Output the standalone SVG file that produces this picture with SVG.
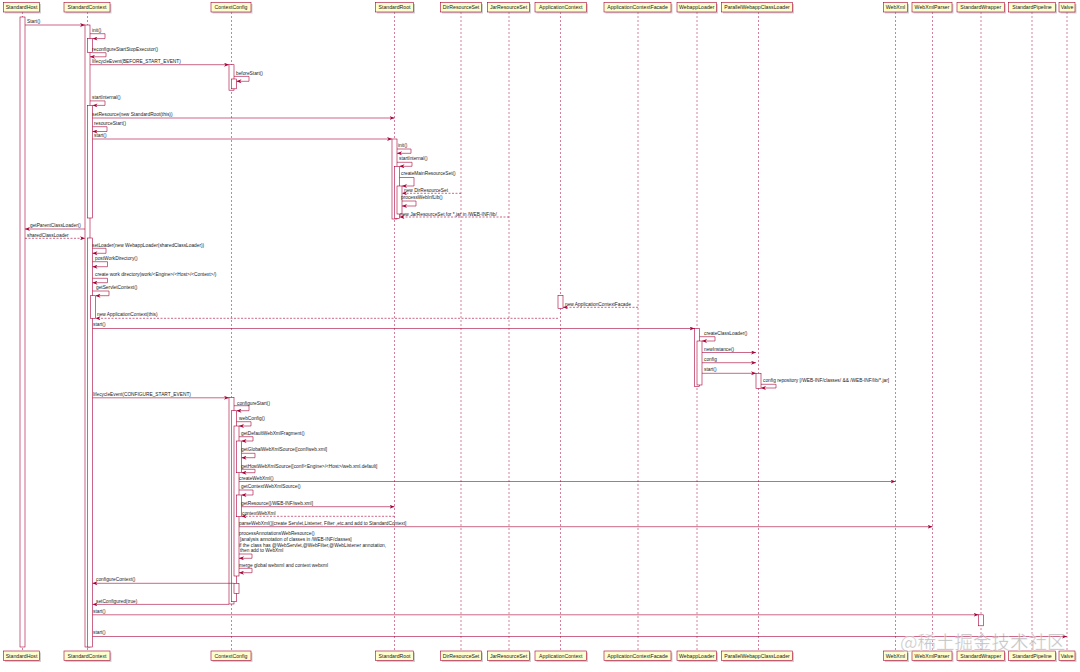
<svg xmlns="http://www.w3.org/2000/svg" width="1080" height="672" viewBox="0 0 1080 672">
<style>
.box{fill:#FEFECE;stroke:#A80036;stroke-width:0.6}
.shd{fill:#999;opacity:.45}
.pt{font-family:"Liberation Sans",Arial,sans-serif;font-size:5.2px;text-anchor:middle;fill:#222}
.life{stroke:#A80036;stroke-width:0.5;stroke-dasharray:2,2;fill:none}
.act{fill:#fff;stroke:#A80036;stroke-width:0.6}
.msg{stroke:#A80036;stroke-width:0.6;fill:none;marker-end:url(#ah)}
.ret{stroke:#A80036;stroke-width:0.6;fill:none;stroke-dasharray:2,1.5;marker-end:url(#ah)}
.lbl{font-family:"Liberation Sans",Arial,sans-serif;font-size:4.8px;fill:#222}
</style>
<defs>
<marker id="ah" viewBox="0 0 5 4" refX="5" refY="2" markerWidth="5" markerHeight="4" orient="auto" markerUnits="userSpaceOnUse"><path d="M0,0 L5,2 L0,4 L1.5,2 Z" fill="#A80036"/></marker>
</defs>
<rect width="1080" height="672" fill="#fff"/>

<g id="StandardHost">
<line class="life" x1="22.5" y1="12" x2="22.5" y2="651"/>
<rect class="shd" x="5" y="4" width="36" height="9.5"/><rect class="box" x="3.5" y="2.5" width="36" height="9.5"/><text class="pt" x="21.5" y="9.2">StandardHost</text>
<rect class="shd" x="5" y="652.5" width="36" height="9.5"/><rect class="box" x="3.5" y="651" width="36" height="9.5"/><text class="pt" x="21.5" y="657.7">StandardHost</text>
<rect class="act" x="20" y="17" width="5" height="630"/>
</g>

<g id="StandardContext">
<line class="life" x1="87.5" y1="12" x2="87.5" y2="651"/>
<rect class="shd" x="65.5" y="4" width="46" height="9.5"/><rect class="box" x="64" y="2.5" width="46" height="9.5"/><text class="pt" x="87" y="9.2">StandardContext</text>
<rect class="shd" x="65.5" y="652.5" width="46" height="9.5"/><rect class="box" x="64" y="651" width="46" height="9.5"/><text class="pt" x="87" y="657.7">StandardContext</text>
<rect class="act" x="85" y="25" width="5" height="622"/>
<rect class="act" x="87.5" y="38.6" width="5" height="13.7"/>
<rect class="act" x="87.5" y="105.4" width="5" height="112.6"/>
<rect class="act" x="87.5" y="238" width="5" height="409"/>
<rect class="act" x="90.5" y="295.7" width="5" height="22.6"/>
</g>

<g id="ContextConfig">
<line class="life" x1="231.5" y1="12" x2="231.5" y2="651"/>
<rect class="shd" x="212.5" y="4" width="40" height="9.5"/><rect class="box" x="211" y="2.5" width="40" height="9.5"/><text class="pt" x="231" y="9.2">ContextConfig</text>
<rect class="shd" x="212.5" y="652.5" width="40" height="9.5"/><rect class="box" x="211" y="651" width="40" height="9.5"/><text class="pt" x="231" y="657.7">ContextConfig</text>
<rect class="act" x="229" y="64.7" width="5" height="25.5"/>
<rect class="act" x="231.5" y="79" width="5" height="9.8"/>
<rect class="act" x="229" y="397.5" width="5" height="206.5"/>
<rect class="act" x="231.5" y="410.7" width="5" height="191"/>
<rect class="act" x="234" y="426" width="5" height="150"/>
<rect class="act" x="236.5" y="441" width="5" height="31.7"/>
<rect class="act" x="236.5" y="495" width="5" height="21.7"/>
<rect class="act" x="234" y="583.3" width="5" height="10"/>
</g>

<g id="StandardRoot">
<line class="life" x1="394.5" y1="12" x2="394.5" y2="651"/>
<rect class="shd" x="377" y="4" width="38" height="9.5"/><rect class="box" x="375.5" y="2.5" width="38" height="9.5"/><text class="pt" x="394.5" y="9.2">StandardRoot</text>
<rect class="shd" x="377" y="652.5" width="38" height="9.5"/><rect class="box" x="375.5" y="651" width="38" height="9.5"/><text class="pt" x="394.5" y="657.7">StandardRoot</text>
<rect class="act" x="392" y="139" width="5" height="80"/>
<rect class="act" x="394.5" y="166.3" width="5" height="52"/>
<rect class="act" x="397" y="186" width="5" height="28"/>
</g>

<g id="DirResourceSet">
<line class="life" x1="461" y1="12" x2="461" y2="651"/>
<rect class="shd" x="442" y="4" width="41" height="9.5"/><rect class="box" x="440.5" y="2.5" width="41" height="9.5"/><text class="pt" x="461" y="9.2">DirResourceSet</text>
<rect class="shd" x="442" y="652.5" width="41" height="9.5"/><rect class="box" x="440.5" y="651" width="41" height="9.5"/><text class="pt" x="461" y="657.7">DirResourceSet</text>
</g>

<g id="JarResourceSet">
<line class="life" x1="509" y1="12" x2="509" y2="651"/>
<rect class="shd" x="489" y="4" width="42" height="9.5"/><rect class="box" x="487.5" y="2.5" width="42" height="9.5"/><text class="pt" x="508.5" y="9.2">JarResourceSet</text>
<rect class="shd" x="489" y="652.5" width="42" height="9.5"/><rect class="box" x="487.5" y="651" width="42" height="9.5"/><text class="pt" x="508.5" y="657.7">JarResourceSet</text>
</g>

<g id="ApplicationContext">
<line class="life" x1="560.5" y1="12" x2="560.5" y2="651"/>
<rect class="shd" x="536.5" y="4" width="51.5" height="9.5"/><rect class="box" x="535" y="2.5" width="51.5" height="9.5"/><text class="pt" x="560.7" y="9.2">ApplicationContext</text>
<rect class="shd" x="536.5" y="652.5" width="51.5" height="9.5"/><rect class="box" x="535" y="651" width="51.5" height="9.5"/><text class="pt" x="560.7" y="657.7">ApplicationContext</text>
<rect class="act" x="558" y="295.5" width="5" height="13"/>
</g>

<g id="ApplicationContextFacade">
<line class="life" x1="638" y1="12" x2="638" y2="651"/>
<rect class="shd" x="605.5" y="4" width="67" height="9.5"/><rect class="box" x="604" y="2.5" width="67" height="9.5"/><text class="pt" x="637.5" y="9.2">ApplicationContextFacade</text>
<rect class="shd" x="605.5" y="652.5" width="67" height="9.5"/><rect class="box" x="604" y="651" width="67" height="9.5"/><text class="pt" x="637.5" y="657.7">ApplicationContextFacade</text>
</g>

<g id="WebappLoader">
<line class="life" x1="697" y1="12" x2="697" y2="651"/>
<rect class="shd" x="678.5" y="4" width="39.5" height="9.5"/><rect class="box" x="677" y="2.5" width="39.5" height="9.5"/><text class="pt" x="696.7" y="9.2">WebappLoader</text>
<rect class="shd" x="678.5" y="652.5" width="39.5" height="9.5"/><rect class="box" x="677" y="651" width="39.5" height="9.5"/><text class="pt" x="696.7" y="657.7">WebappLoader</text>
<rect class="act" x="694.5" y="328.5" width="5" height="58"/>
<rect class="act" x="697" y="341" width="5" height="44"/>
</g>

<g id="ParallelWebappClassLoader">
<line class="life" x1="758.5" y1="12" x2="758.5" y2="651"/>
<rect class="shd" x="723" y="4" width="71" height="9.5"/><rect class="box" x="721.5" y="2.5" width="71" height="9.5"/><text class="pt" x="757" y="9.2">ParallelWebappClassLoader</text>
<rect class="shd" x="723" y="652.5" width="71" height="9.5"/><rect class="box" x="721.5" y="651" width="71" height="9.5"/><text class="pt" x="757" y="657.7">ParallelWebappClassLoader</text>
<rect class="act" x="756" y="373.3" width="5" height="15.2"/>
</g>

<g id="WebXml">
<line class="life" x1="895.5" y1="12" x2="895.5" y2="651"/>
<rect class="shd" x="885" y="4" width="24" height="9.5"/><rect class="box" x="883.5" y="2.5" width="24" height="9.5"/><text class="pt" x="895.5" y="9.2">WebXml</text>
<rect class="shd" x="885" y="652.5" width="24" height="9.5"/><rect class="box" x="883.5" y="651" width="24" height="9.5"/><text class="pt" x="895.5" y="657.7">WebXml</text>
</g>

<g id="WebXmlParser">
<line class="life" x1="932.5" y1="12" x2="932.5" y2="651"/>
<rect class="shd" x="913.5" y="4" width="40" height="9.5"/><rect class="box" x="912" y="2.5" width="40" height="9.5"/><text class="pt" x="932" y="9.2">WebXmlParser</text>
<rect class="shd" x="913.5" y="652.5" width="40" height="9.5"/><rect class="box" x="912" y="651" width="40" height="9.5"/><text class="pt" x="932" y="657.7">WebXmlParser</text>
</g>

<g id="StandardWrapper">
<line class="life" x1="981" y1="12" x2="981" y2="651"/>
<rect class="shd" x="958.5" y="4" width="47.5" height="9.5"/><rect class="box" x="957" y="2.5" width="47.5" height="9.5"/><text class="pt" x="980.7" y="9.2">StandardWrapper</text>
<rect class="shd" x="958.5" y="652.5" width="47.5" height="9.5"/><rect class="box" x="957" y="651" width="47.5" height="9.5"/><text class="pt" x="980.7" y="657.7">StandardWrapper</text>
<rect class="act" x="978.5" y="614.8" width="5" height="11"/>
</g>

<g id="StandardPipeline">
<line class="life" x1="1032" y1="12" x2="1032" y2="651"/>
<rect class="shd" x="1010" y="4" width="47" height="9.5"/><rect class="box" x="1008.5" y="2.5" width="47" height="9.5"/><text class="pt" x="1032" y="9.2">StandardPipeline</text>
<rect class="shd" x="1010" y="652.5" width="47" height="9.5"/><rect class="box" x="1008.5" y="651" width="47" height="9.5"/><text class="pt" x="1032" y="657.7">StandardPipeline</text>
</g>

<g id="Valve">
<line class="life" x1="1067" y1="12" x2="1067" y2="651"/>
<rect class="shd" x="1060.5" y="4" width="16" height="9.5"/><rect class="box" x="1059" y="2.5" width="16" height="9.5"/><text class="pt" x="1067" y="9.2">Valve</text>
<rect class="shd" x="1060.5" y="652.5" width="16" height="9.5"/><rect class="box" x="1059" y="651" width="16" height="9.5"/><text class="pt" x="1067" y="657.7">Valve</text>
</g>

<g id="connectors">
<line class="msg" x1="25" y1="25" x2="85" y2="25"/><text class="lbl" x="27" y="22.5">Start()</text>
<path class="msg" d="M90,33.7 H105 V38.6 H92.5"/><text class="lbl" x="92" y="31.5">init()</text>
<path class="msg" d="M92.5,52.7 H106 V56.8 H90"/><text class="lbl" x="92" y="50.5">reconfigureStartStopExecutor()</text>
<line class="msg" x1="90" y1="64.7" x2="229" y2="64.7"/><text class="lbl" x="92" y="63">lifecycleEvent(BEFORE_START_EVENT)</text>
<path class="msg" d="M234,76.4 H249 V81.3 H236.5"/><text class="lbl" x="236" y="74.5">beforeStart()</text>
<path class="msg" d="M90,100.9 H105 V105.4 H92.5"/><text class="lbl" x="92" y="98.8">startInternal()</text>
<line class="msg" x1="92.5" y1="118" x2="394.5" y2="118"/><text class="lbl" x="92" y="115.5">setResource(new StandardRoot(this))</text>
<path class="msg" d="M92.5,126.7 H107 V131.5 H92.5"/><text class="lbl" x="94" y="124.5">resourceStart()</text>
<line class="msg" x1="92.5" y1="139" x2="392" y2="139"/><text class="lbl" x="94" y="136.8">start()</text>
<path class="msg" d="M397,149 H411 V153.3 H397"/><text class="lbl" x="398" y="147">init()</text>
<path class="msg" d="M397,162.3 H412 V166.3 H399.5"/><text class="lbl" x="399" y="160.2">startInternal()</text>
<path class="msg" d="M399.5,177.5 H414 V186 H402"/><text class="lbl" x="401" y="175.2">createMainResourceSet()</text>
<line class="ret" x1="461" y1="193.3" x2="402" y2="193.3"/><text class="lbl" x="404" y="191.6">new DirResourceSet</text>
<path class="msg" d="M402,201 H416 V206 H402"/><text class="lbl" x="401" y="198.5">processWebInfLib()</text>
<line class="ret" x1="509" y1="217" x2="399.5" y2="217"/><text class="lbl" x="400" y="215.5">new JarResourceSet for *.jar in /WEB-INF/lib/</text>
<line class="msg" x1="85" y1="229" x2="25" y2="229"/><text class="lbl" x="30" y="226.8">getParentClassLoader()</text>
<line class="ret" x1="25" y1="238.3" x2="85" y2="238.3"/><text class="lbl" x="27" y="236.5">sharedClassLoader</text>
<path class="msg" d="M92.5,248.3 H106 V253.3 H92.5"/><text class="lbl" x="92" y="246.5">setLoader(new WebappLoader(sharedClassLoader))</text>
<path class="msg" d="M92.5,261.7 H107.5 V266.7 H92.5"/><text class="lbl" x="95" y="259.8">postWorkDirectory()</text>
<path class="msg" d="M92.5,278.3 H107.5 V282.7 H92.5"/><text class="lbl" x="95" y="275.8">create work directory(work/&lt;Engine&gt;/&lt;Host&gt;/&lt;Context&gt;/)</text>
<path class="msg" d="M92.5,291 H109 V295.7 H95.5"/><text class="lbl" x="96" y="289.2">getServletContext()</text>
<line class="ret" x1="638" y1="307.3" x2="563" y2="307.3"/><text class="lbl" x="565" y="305.8">new ApplicationContextFacade</text>
<line class="ret" x1="558" y1="318.3" x2="95.5" y2="318.3"/><text class="lbl" x="97" y="316">new ApplicationContext(this)</text>
<line class="msg" x1="92.5" y1="328.5" x2="694.5" y2="328.5"/><text class="lbl" x="93" y="326">start()</text>
<path class="msg" d="M699.5,336.7 H715 V341 H702"/><text class="lbl" x="704" y="334.5">createClassLoader()</text>
<line class="msg" x1="702" y1="352.5" x2="756" y2="352.5"/><text class="lbl" x="704" y="350.8">newInstance()</text>
<line class="msg" x1="702" y1="362.7" x2="756" y2="362.7"/><text class="lbl" x="704" y="361">config</text>
<line class="msg" x1="702" y1="373.3" x2="756" y2="373.3"/><text class="lbl" x="704" y="370.8">start()</text>
<path class="msg" d="M761,384.3 H776 V388 H761"/><text class="lbl" x="763" y="382.3">config repository [/WEB-INF/classes/ &amp;&amp; /WEB-INF/lib/*.jar]</text>
<line class="msg" x1="92.5" y1="397.8" x2="229" y2="397.8"/><text class="lbl" x="93" y="396">lifecycleEvent(CONFIGURE_START_EVENT)</text>
<path class="msg" d="M234,405.7 H249 V410.7 H236.5"/><text class="lbl" x="237" y="404.8">configureStart()</text>
<path class="msg" d="M236.5,421.7 H251 V426 H239"/><text class="lbl" x="239" y="420">webConfig()</text>
<path class="msg" d="M239,436.7 H253 V441 H241.5"/><text class="lbl" x="241" y="435">getDefaultWebXmlFragment()</text>
<path class="msg" d="M241.5,453.3 H255 V457.7 H241.5"/><text class="lbl" x="241" y="451">getGlobalWebXmlSource([conf/web.xml]</text>
<path class="msg" d="M241.5,469.3 H255 V472.7 H241.5"/><text class="lbl" x="241" y="467.7">getHostWebXmlSource([conf/&lt;Engine&gt;/&lt;Host&gt;/web.xml.default]</text>
<line class="msg" x1="239" y1="481.5" x2="895.5" y2="481.5"/><text class="lbl" x="239" y="479.8">createWebXml()</text>
<path class="msg" d="M239,490 H253 V495 H241.5"/><text class="lbl" x="241" y="488.3">getContextWebXmlSource()</text>
<line class="msg" x1="241.5" y1="506.7" x2="394.5" y2="506.7"/><text class="lbl" x="241" y="505">getResource([/WEB-INF/web.xml]</text>
<line class="ret" x1="394.5" y1="516.3" x2="241.5" y2="516.3"/><text class="lbl" x="242" y="514.8">contextWebXml</text>
<line class="msg" x1="239" y1="526.7" x2="932.5" y2="526.7"/><text class="lbl" x="239" y="525.3">parseWebXml()[create Servlet,Listener, Filter ,etc.and add to StandardContext]</text>
<path class="msg" d="M239,554 H252 V558.3 H239"/>
<text class="lbl" x="239" y="535">processAnnotationsWebResource()</text>
<text class="lbl" x="240" y="540.9">[analysis annotation of classes in /WEB-INF/classes]</text>
<text class="lbl" x="239" y="546.6">if the class has @WebServlet,@WebFilter,@WebListener annotation,</text>
<text class="lbl" x="240" y="552">then add to WebXml</text>
<path class="msg" d="M239,568.3 H252 V572.7 H239"/><text class="lbl" x="239" y="566.6">merge global webxml and context webxml</text>
<line class="msg" x1="234" y1="583.3" x2="92.5" y2="583.3"/><text class="lbl" x="96" y="581.3">configureContext()</text>
<line class="msg" x1="229" y1="604.4" x2="92.5" y2="604.4"/><text class="lbl" x="96" y="602.6">setConfigured(true)</text>
<line class="msg" x1="92.5" y1="614.8" x2="978.5" y2="614.8"/><text class="lbl" x="93" y="612.8">start()</text>
<line class="msg" x1="92.5" y1="636.5" x2="1067" y2="636.5"/><text class="lbl" x="93" y="634.3">start()</text>
</g>

<text x="900" y="648.5" font-family="'Noto Sans CJK SC','Noto Sans',sans-serif" font-size="18.5" fill="#8a8a8a" fill-opacity="0.55" stroke="#fff" stroke-width="0.6" stroke-opacity="0.6">@稀土掘金技术社区</text>
</svg>
